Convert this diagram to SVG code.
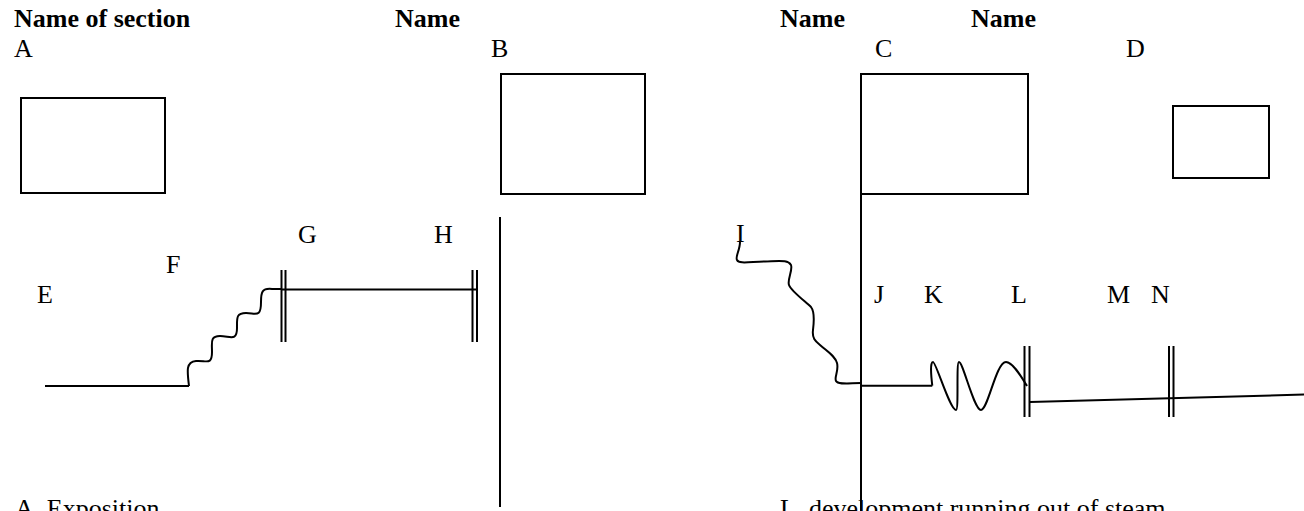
<svg xmlns="http://www.w3.org/2000/svg" width="1304" height="511" viewBox="0 0 1304 511">
<style>
  .t { font-family: "Liberation Serif", "Times New Roman", serif; font-size: 26px; fill: #000; }
  .b { font-weight: bold; }
  .box { fill: #fff; stroke: #000; stroke-width: 2; }
  .ln { fill: none; stroke: #000; stroke-width: 2; }
</style>
<rect width="1304" height="511" fill="#fff"/>

<g id="headings">
  <text class="t b" x="14" y="27">Name of section</text>
  <text class="t b" x="395" y="27">Name</text>
  <text class="t b" x="780" y="27">Name</text>
  <text class="t b" x="971" y="27">Name</text>
</g>

<g id="node-A">
  <text class="t" x="14" y="57">A</text>
  <rect class="box" x="21" y="98" width="144" height="95"/>
</g>
<g id="node-B">
  <text class="t" x="491" y="57">B</text>
  <rect class="box" x="501" y="74" width="144" height="120"/>
</g>
<g id="node-C">
  <text class="t" x="875" y="57">C</text>
  <rect class="box" x="861" y="74" width="167" height="120"/>
</g>
<g id="node-D">
  <text class="t" x="1126" y="57">D</text>
  <rect class="box" x="1173" y="106" width="96" height="72"/>
</g>

<g id="labels">
  <text class="t" x="37" y="303">E</text>
  <text class="t" x="166" y="273">F</text>
  <text class="t" x="298" y="243">G</text>
  <text class="t" x="434" y="243">H</text>
  <text class="t" x="736" y="242">I</text>
  <text class="t" x="874" y="303">J</text>
  <text class="t" x="924" y="303">K</text>
  <text class="t" x="1011" y="303">L</text>
  <text class="t" x="1107" y="303">M</text>
  <text class="t" x="1151" y="303">N</text>
</g>

<g id="connectors">
  <line class="ln" x1="500" y1="217" x2="500" y2="507"/>
  <line class="ln" x1="861" y1="194" x2="861" y2="511"/>
  <line class="ln" x1="45" y1="386" x2="189" y2="386"/>
  <path class="ln" d="M189,386 C187,370 186,362 196,361 C206,360 212,366 212,352 C212,342 210,336 220,336 C230,336 237,342 237,328 C237,318 236,313 246,313 C256,313 261,318 261,302 C261,292 262,288 272,289 L282,289"/>
  <line class="ln" x1="281.5" y1="270" x2="281.5" y2="342"/>
  <line class="ln" x1="285.5" y1="270" x2="285.5" y2="342"/>
  <line class="ln" x1="282" y1="289.5" x2="477" y2="289.5"/>
  <line class="ln" x1="472.5" y1="270" x2="472.5" y2="342"/>
  <line class="ln" x1="477" y1="270" x2="477" y2="342"/>
  <path class="ln" d="M740,242 C740,250 735,257 737,260 C739,264 748,262 765,261.5 C782,261 788,260 791,265 C793,270 787,280 789,285 C791,291 806,302 811,307 C815,312 814,322 813,330 C812,338 815,341 820,345 C828,352 835,356 837,363 C839,371 834,377 836,381 C838,385 850,383 861,383"/>
  <line class="ln" x1="861" y1="385.7" x2="932.3" y2="385.7"/>
  <path class="ln" d="M932.3,385.7 C931,375 930,362 933,362 C936,362 950,410 956,410 C959,410 956,362 959,362 C963,362 974,410 981,410 C988,410 996,362 1006,362 C1013,362 1022,378 1027,386"/>
  <line class="ln" x1="1024.5" y1="346" x2="1024.5" y2="417"/>
  <line class="ln" x1="1029.5" y1="346" x2="1029.5" y2="417"/>
  <line class="ln" x1="1030" y1="402" x2="1304" y2="394.5"/>
  <line class="ln" x1="1169" y1="346" x2="1169" y2="417"/>
  <line class="ln" x1="1173.5" y1="346" x2="1173.5" y2="417"/>
</g>

<g id="captions">
  <text class="t" x="15" y="516.5">A. Exposition</text>
  <text class="t" x="780" y="516.5">L. development running out of steam</text>
</g>
</svg>
